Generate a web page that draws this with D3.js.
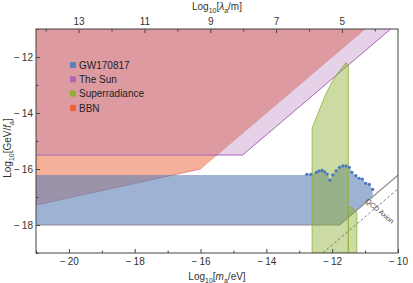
<!DOCTYPE html>
<html>
<head>
<meta charset="utf-8">
<script src="https://cdn.jsdelivr.net/npm/d3@7"></script>
<style>
  html, body { margin: 0; padding: 0; background: #fff; }
  svg { display: block; font-family: "Liberation Sans", Arial, sans-serif; }
  .axis text { font-size: 10px; fill: #333; }
  .axis line { stroke: #444; }
</style>
</head>
<body>
<div id="chart"></div>
<script>
// ── Data (log10 units: x = m_a/eV, y = GeV/f_a) ───────────────────────────
const xDomain = [-21, -10];
const yDomain = [-19, -11];

const xTickLabels = [-20, -18, -16, -14, -12, -10];
const yTickLabels = [-18, -16, -14, -12];
const lambdaTickLabels = [13, 11, 9, 7, 5];
const log10HbarC = -6.705; // log10(ħc / eV·m), λ = ħc / m

const legendLabels = ["GW170817", "The Sun", "Superradiance", "BBN"];
const legendColors = ["#5e81b5", "#a866b4", "#8fb032", "#eb6235"];

const bbnRegion = [[-21, -11], [-11, -11], [-16, -16], [-21, -17.29]];
const bbnLowerEdge = [[-21, -17.29], [-16, -16]];

const sunRegion = [[-21, -11], [-10.22, -11], [-14.72, -15.5], [-21, -15.5]];
const sunEdge = [[-21, -15.5], [-14.72, -15.5], [-10.22, -11]];

// GW170817 upper boundary points
const gwPoints = [
  [-12.77, -16.19], [-12.65, -16.19], [-12.48, -16.12], [-12.40, -16.07],
  [-12.31, -16.05], [-12.23, -16.10], [-12.15, -16.18], [-12.07, -16.40],
  [-11.98, -16.21], [-11.88, -16.07], [-11.78, -15.94], [-11.68, -15.89],
  [-11.58, -15.89], [-11.48, -15.94], [-11.40, -16.12], [-11.28, -16.24],
  [-11.18, -16.33], [-11.08, -16.36], [-10.98, -16.51], [-10.87, -16.55],
  [-10.77, -16.73]
];
const gwTop = -16.21;
const gwLowerEdge = [[-21, -18], [-11.78, -18], [-10, -16.22]];

const superradianceMain = [
  [-12.61, -19], [-12.61, -14.55], [-12.43, -14.01], [-12.23, -13.42],
  [-12.03, -12.94], [-11.83, -12.58], [-11.58, -12.20], [-11.51, -12.29],
  [-11.51, -19]
];
const superradianceLow = [
  [-11.51, -19], [-11.51, -17.35], [-11.42, -17.37], [-11.34, -17.43],
  [-11.28, -17.50], [-11.25, -17.58], [-11.25, -19]
];

const qcdLine = [[-12.29, -19], [-10, -16.71]];

// ── Layout ────────────────────────────────────────────────────────────────
const totalW = 413, totalH = 283;
const margin = { top: 29, right: 15, bottom: 30, left: 36 };
const W = totalW - margin.left - margin.right;
const H = totalH - margin.top - margin.bottom;

const svg = d3.select("#chart").append("svg")
  .attr("width", totalW)
  .attr("height", totalH);

const g = svg.append("g")
  .attr("transform", `translate(${margin.left},${margin.top})`);

// ── Scales ────────────────────────────────────────────────────────────────
const x = d3.scaleLinear().domain(xDomain).range([0, W]);
const y = d3.scaleLinear().domain(yDomain).range([H, 0]);
const lam = d3.scaleLinear()
  .domain(xDomain.map(m => log10HbarC - m))
  .range([0, W]);

g.append("clipPath").attr("id", "plot-clip")
  .append("rect").attr("width", W).attr("height", H);

const plot = g.append("g").attr("clip-path", "url(#plot-clip)");

const line = d3.line().x(d => x(d[0])).y(d => y(d[1]));
const poly = pts => line(pts) + "Z";

// ── Regions ───────────────────────────────────────────────────────────────
plot.append("path")
  .attr("d", poly(bbnRegion))
  .attr("fill", "#eb6235").attr("fill-opacity", 0.5)
  .attr("stroke", "#e8775a").attr("stroke-width", 0.6).attr("stroke-opacity", 0.6);

plot.append("path")
  .attr("d", line(bbnLowerEdge))
  .attr("fill", "none")
  .attr("stroke", "#c9707a").attr("stroke-width", 1)
  .attr("stroke-dasharray", "1,1");

plot.append("path")
  .attr("d", poly(sunRegion))
  .attr("fill", "#a866b4").attr("fill-opacity", 0.3);

plot.append("path")
  .attr("d", line(sunEdge))
  .attr("fill", "none")
  .attr("stroke", "#a866b4").attr("stroke-width", 1);

const gwLast = gwPoints[gwPoints.length - 1];
const gwRegion = [[xDomain[0], gwTop], [gwPoints[0][0], gwTop], ...gwPoints,
  [gwLast[0], gwLast[0] - 6.22], gwLowerEdge[1], gwLowerEdge[0]];

plot.append("path")
  .attr("d", poly(gwRegion))
  .attr("fill", "#5e81b5").attr("fill-opacity", 0.6);

plot.append("path")
  .attr("d", line(gwLowerEdge))
  .attr("fill", "none")
  .attr("stroke", "#8a8a8a").attr("stroke-width", 1.2);

[superradianceMain, superradianceLow].forEach(r => {
  plot.append("path")
    .attr("d", poly(r))
    .attr("fill", "#8fb032").attr("fill-opacity", 0.45)
    .attr("stroke", "#8fb032").attr("stroke-width", 0.8);
});

plot.selectAll("circle.gw")
  .data(gwPoints)
  .join("circle")
  .attr("class", "gw")
  .attr("cx", d => x(d[0]))
  .attr("cy", d => y(d[1]))
  .attr("r", 1.6)
  .attr("fill", "#4a78bd");

plot.append("path")
  .attr("d", line(qcdLine))
  .attr("fill", "none")
  .attr("stroke", "#555").attr("stroke-width", 0.7)
  .attr("stroke-dasharray", "3,2");

const qx = x(-10.55), qy = y(-17.5);
const qAngle = -Math.atan2(y(-11) - y(-12), x(-11) - x(-12)) * 180 / Math.PI;
plot.append("text")
  .attr("transform", `translate(${qx},${qy}) rotate(${qAngle})`)
  .attr("text-anchor", "middle")
  .attr("dy", "0.35em")
  .attr("font-size", 7)
  .attr("fill", "#444")
  .text("QCD Axion");

// ── Axes (ticks inward, Mathematica style) ────────────────────────────────
const minus = v => (v < 0 ? "\u2212\u2009" + Math.abs(v) : String(v));

const bottomAll = d3.range(-21, -9);
g.append("g").attr("class", "axis")
  .attr("transform", `translate(0,${H})`)
  .call(d3.axisBottom(x).tickValues(bottomAll).tickSizeInner(-2.5).tickSizeOuter(0)
    .tickPadding(5).tickFormat(d => xTickLabels.includes(d) ? minus(d) : ""))
  .call(a => a.select(".domain").remove())
  .call(a => a.selectAll(".tick line")
    .filter(d => xTickLabels.includes(d)).attr("y2", -4));

const leftAll = d3.range(-19, -10);
g.append("g").attr("class", "axis")
  .call(d3.axisLeft(y).tickValues(leftAll).tickSizeInner(-2.5).tickSizeOuter(0)
    .tickPadding(3).tickFormat(d => yTickLabels.includes(d) ? minus(d) : ""))
  .call(a => a.select(".domain").remove())
  .call(a => a.selectAll(".tick line")
    .filter(d => yTickLabels.includes(d)).attr("x2", 4));

const topAll = d3.range(4, 15);
g.append("g").attr("class", "axis")
  .call(d3.axisTop(lam).tickValues(topAll).tickSizeInner(-2.5).tickSizeOuter(0)
    .tickPadding(4).tickFormat(d => lambdaTickLabels.includes(d) ? String(d) : ""))
  .call(a => a.select(".domain").remove())
  .call(a => a.selectAll(".tick line")
    .filter(d => lambdaTickLabels.includes(d)).attr("y2", 4));

// frame
g.append("rect")
  .attr("width", W).attr("height", H)
  .attr("fill", "none")
  .attr("stroke", "#444").attr("stroke-width", 1);

// ── Axis titles ───────────────────────────────────────────────────────────
function title(sel, parts) {
  parts.forEach(p => {
    const t = sel.append("tspan").text(p.t);
    if (p.sub) t.attr("font-size", 7).attr("dy", 2.5);
    if (p.up) t.attr("dy", -2.5);
    if (p.it) t.attr("font-style", "italic");
  });
}

const bt = svg.append("text")
  .attr("x", margin.left + W / 2).attr("y", 280)
  .attr("text-anchor", "middle").attr("font-size", 10).attr("fill", "#333");
title(bt, [{ t: "Log" }, { t: "10", sub: true }, { t: "[", up: true }, { t: "m", it: true },
  { t: "a", sub: true }, { t: "/eV]", up: true }]);

const tt = svg.append("text")
  .attr("x", margin.left + W / 2).attr("y", 10)
  .attr("text-anchor", "middle").attr("font-size", 10).attr("fill", "#333");
title(tt, [{ t: "Log" }, { t: "10", sub: true }, { t: "[", up: true }, { t: "λ", it: true },
  { t: "a", sub: true }, { t: "/m]", up: true }]);

const lt = svg.append("text")
  .attr("transform", "translate(11,148) rotate(-90)")
  .attr("text-anchor", "middle").attr("font-size", 10).attr("fill", "#333");
title(lt, [{ t: "Log" }, { t: "10", sub: true }, { t: "[GeV/", up: true }, { t: "f", it: true },
  { t: "a", sub: true }, { t: "]", up: true }]);

// ── Legend ────────────────────────────────────────────────────────────────
const legend = svg.append("g").attr("transform", "translate(70,65)");
legendLabels.forEach((lab, i) => {
  const row = legend.append("g").attr("transform", `translate(0,${i * 14.3})`);
  row.append("rect")
    .attr("x", 0).attr("y", -3).attr("width", 6).attr("height", 6)
    .attr("fill", legendColors[i]);
  row.append("text")
    .attr("x", 9).attr("y", 3.6)
    .attr("font-size", 10).attr("fill", "#222")
    .text(lab);
});
</script>
</body>
</html>
